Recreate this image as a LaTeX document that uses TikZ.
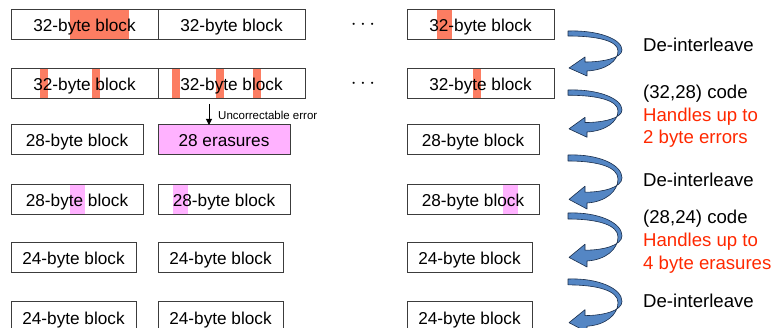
\documentclass[tikz,border=0pt]{standalone}
\usepackage{fontspec}
\setmainfont{Liberation Sans}
\usetikzlibrary{arrows.meta}
\definecolor{boxedge}{RGB}{60,60,60}
\definecolor{hlred}{RGB}{252,125,98}
\definecolor{hlpink}{RGB}{255,178,255}
\definecolor{txtred}{RGB}{255,40,0}
\definecolor{arrowblue}{RGB}{84,134,196}
\definecolor{arrowedge}{RGB}{25,45,75}
\tikzset{
  blk/.style={draw=boxedge, line width=1pt, inner sep=0pt, outer sep=0pt, anchor=north west,
    minimum height=30pt, text height=14pt, text depth=0pt,
    font=\fontsize{17.2}{20}\selectfont},
  wA/.style={minimum width=147pt},
  wB/.style={minimum width=132pt},
  wC/.style={minimum width=125pt},
  dotsnode/.style={inner sep=0pt, font=\fontsize{21}{24}\selectfont},
  lab/.style={anchor=base west, inner sep=0pt, font=\fontsize{18.6}{22}\selectfont},
  redlab/.style={lab, text=txtred},
  curvarrow/.pic={
    \path[fill=arrowblue, draw=arrowedge, line width=0.6pt, line join=round]
      (0,0) .. controls (30,-1) and (54,8) .. (54,19)
      .. controls (54,27) and (35,31) .. (17,31)
      -- (17,26) -- (1,37) -- (19,45) -- (19,40)
      .. controls (38,39) and (50,30) .. (50,20)
      .. controls (50,10) and (30,5) .. (0,5) -- cycle;
  }
}
\begin{document}
\begin{tikzpicture}[x=1pt,y=-1pt]
\useasboundingbox (0,0) rectangle (781,328);

% highlights row 1
\fill[hlred] (70,9) rectangle (129,39);
\fill[hlred] (437,9) rectangle (452,39);
% highlights row 2
\foreach \a in {40,92,172,216,253,473}
  \fill[hlred] (\a,68) rectangle (\a+8,99);
% highlights row 4
\foreach \a in {70,173,503}
  \fill[hlpink] (\a,185) rectangle (\a+15,214);

% row 1
\node[blk,wA] (r1a) at (11,10) {32-byte block};
\node[blk,wA] (r1b) at (158,10) {32-byte block};
\node[blk,wA] (r1c) at (407,10) {32-byte block};
\node[dotsnode] (d1) at (363,25) {$\cdots$};
% row 2
\node[blk,wA] (r2a) at (11,69) {32-byte block};
\node[blk,wA] (r2b) at (158,69) {32-byte block};
\node[blk,wA] (r2c) at (407,69) {32-byte block};
\node[dotsnode] (d2) at (363,84) {$\cdots$};
% row 3
\node[blk,wB] (r3a) at (11,125) {28-byte block};
\node[blk,wB,fill=hlpink] (r3b) at (158,125) {28 erasures};
\node[blk,wB] (r3c) at (407,125) {28-byte block};
% row 4
\node[blk,wB] (r4a) at (11,185) {28-byte block};
\node[blk,wB] (r4b) at (158,185) {28-byte block};
\node[blk,wB] (r4c) at (407,185) {28-byte block};
% row 5
\node[blk,wC] (r5a) at (11,243) {24-byte block};
\node[blk,wC] (r5b) at (158,243) {24-byte block};
\node[blk,wC] (r5c) at (407,243) {24-byte block};
% row 6
\node[blk,wC] (r6a) at (11,302) {24-byte block};
\node[blk,wC] (r6b) at (158,302) {24-byte block};
\node[blk,wC] (r6c) at (407,302) {24-byte block};

% uncorrectable error
\coordinate (errtop) at (209,104);
\draw[line width=1pt, -{Triangle[length=6pt,width=6pt]}] (errtop) -- (errtop |- r3b.north);
\node[anchor=base west, inner sep=0pt, font=\fontsize{11.5}{13}\selectfont] (err) at (218,120) {Uncorrectable error};

% curved arrows
\pic at (568,31) {curvarrow};
\pic[yscale=1.05] at (568,90) {curvarrow};
\pic[yscale=1.2] at (568,155) {curvarrow};
\pic[yscale=1.2] at (568,213) {curvarrow};
\pic[yscale=1.18] at (568,279) {curvarrow};

% labels
\node[lab] (l1) at (643,52) {De-interleave};
\node[lab] (l2) at (643,99) {(32,28) code};
\node[redlab] (l3) at (643,122) {Handles up to};
\node[redlab] (l4) at (643,144) {2 byte errors};
\node[lab] (l5) at (643,187) {De-interleave};
\node[lab] (l6) at (643,224) {(28,24) code};
\node[redlab] (l7) at (643,247) {Handles up to};
\node[redlab] (l8) at (643,270) {4 byte erasures};
\node[lab] (l9) at (643,308) {De-interleave};
\end{tikzpicture}
\end{document}
